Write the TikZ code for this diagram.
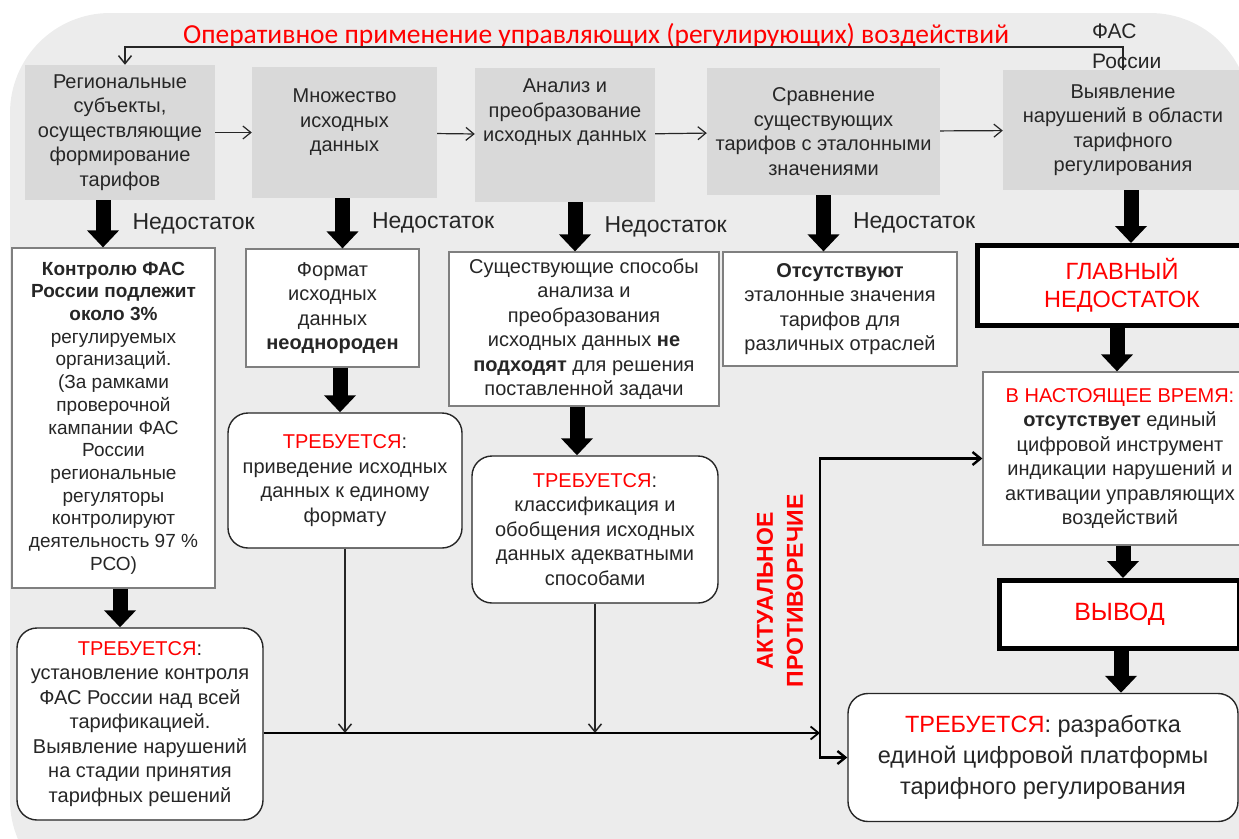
\documentclass[tikz,border=0pt]{standalone}
\usepackage{fontspec}
\setmainfont{Liberation Sans}
\newfontfamily\calibri{Carlito}
\usetikzlibrary{arrows.meta}

\definecolor{panel}{HTML}{ECECEC}
\definecolor{boxgrey}{HTML}{D9D9D9}
\definecolor{ink}{HTML}{262626}
\definecolor{alarm}{HTML}{FF0000}
\definecolor{rim}{HTML}{7F7F7F}

\newcommand{\req}{\textcolor{alarm}{ТРЕБУЕТСЯ}:}

\begin{document}
\begin{tikzpicture}[x=1pt,y=-1pt,>={Straight Barb[length=8pt,width=13pt]},
  font=\fontsize{20}{24.5}\selectfont,text=ink,inner sep=0pt]
  \tikzstyle{stage}=[fill=boxgrey,align=center]
  \tikzstyle{fault}=[draw=rim,fill=white,line width=1.2pt,align=center]
  \tikzstyle{need}=[draw=ink,fill=white,line width=1.4pt,rounded corners=20pt,align=center]
  \tikzstyle{alert}=[draw=black,fill=white,line width=5pt,align=center,text=alarm,font=\fontsize{23.5}{28}\selectfont]
  \tikzstyle{fat}=[line width=15pt,-{Triangle[length=17pt,width=31pt]}]
  \tikzstyle{link}=[->,line width=1.2pt,ink]
  \tikzstyle{bus}=[->,line width=2.4pt]
  \tikzstyle{lack}=[anchor=west,xshift=22pt,font=\fontsize{23}{28}\selectfont]

  \useasboundingbox (0,0) rectangle (1239,838);
  \clip (0,0) rectangle (1239,838);
  \fill[panel,rounded corners=100pt] (10,900) -- (10,13) -- (1250,13) -- (1250,900) -- cycle;

  \node[text=alarm,font=\calibri\fontsize{27.5}{30}\selectfont] (title) at (596,36)
    {Оперативное применение управляющих (регулирующих) воздействий};
  \node[anchor=west,align=left,font=\fontsize{21}{30}\selectfont] (fas) at (1092,46) {ФАС\\России};

  \node[stage,minimum width=190pt,minimum height=135pt] (s1) at (120,132.5)
    {Региональные\\субъекты,\\осуществляющие\\формирование\\тарифов};
  \node[stage,minimum width=185pt,minimum height=131pt] (s2) at (344.5,132.5)
    {Множество\\исходных\\данных\\ \mbox{}};
  \node[stage,minimum width=180pt,minimum height=134pt] (s3) at (565,135)
    {Анализ и\\преобразование\\исходных данных\\ \mbox{}\\ \mbox{}};
  \node[stage,minimum width=233pt,minimum height=127pt] (s4) at (823.5,131.5)
    {Сравнение\\существующих\\тарифов с эталонными\\значениями};
  \node[stage,minimum width=240pt,minimum height=120pt] (s5) at (1123,130)
    {Выявление\\нарушений в области\\тарифного\\регулирования};

  \node[fault,minimum width=203pt,minimum height=340pt,font=\fontsize{19}{22.7}\selectfont] (f1) at (113.5,418)
    {\textbf{Контролю ФАС}\\\textbf{России подлежит}\\\textbf{около 3\%}\\регулируемых\\организаций.\\(За рамками\\проверочной\\кампании ФАС\\России\\региональные\\регуляторы\\контролируют\\деятельность 97 \%\\РСО)};
  \node[fault,minimum width=173pt,minimum height=118pt] (f2) at (332.5,308)
    {Формат\\исходных\\данных\\\textbf{неоднороден}};
  \node[fault,minimum width=270pt,minimum height=154pt] (f3) at (584,329)
    {Существующие способы\\анализа и\\преобразования\\исходных данных \textbf{не}\\\textbf{подходят} для решения\\поставленной задачи};
  \node[fault,minimum width=234pt,minimum height=114pt] (f4) at (840,309)
    {\textbf{Отсутствуют}\\эталонные значения\\тарифов для\\различных отраслей};
  \node[alert,minimum width=290pt,minimum height=80pt] (main) at (1122,285.5) {ГЛАВНЫЙ\\НЕДОСТАТОК};

  \node[need,minimum width=246pt,minimum height=192pt] (r1) at (140,724)
    {\req\\установление контроля\\ФАС России над всей\\тарификацией.\\Выявление нарушений\\на стадии принятия\\тарифных решений};
  \node[need,minimum width=234pt,minimum height=135pt] (r2) at (345,480.5)
    {\req\\приведение исходных\\данных к единому\\формату};
  \node[need,minimum width=246pt,minimum height=147pt] (r3) at (595,529.5)
    {\req\\классификация и\\обобщения исходных\\данных адекватными\\способами};

  \node[fault,minimum width=274pt,minimum height=173pt] (now) at (1120,458.5)
    {\textcolor{alarm}{В НАСТОЯЩЕЕ ВРЕМЯ:}\\\textbf{отсутствует} единый\\цифровой инструмент\\индикации нарушений и\\активации управляющих\\воздействий};
  \node[alert,minimum width=240pt,minimum height=68pt,font=\fontsize{25}{28}\selectfont] (out) at (1119.5,614.5) {ВЫВОД};
  \node[need,minimum width=390pt,minimum height=128pt,font=\fontsize{23.5}{31}\selectfont] (goal) at (1043,757.5)
    {\req{} разработка\\единой цифровой платформы\\тарифного регулирования};

  \node[rotate=90,align=center,text=alarm,font=\bfseries\fontsize{23}{30}\selectfont] (gap) at (780,591)
    {АКТУАЛЬНОЕ\\ПРОТИВОРЕЧИЕ};

  \draw[link] (s1) -- (s2);
  \draw[link] (s2) -- (s3);
  \draw[link] (s3) -- (s4);
  \draw[link] (s4) -- (s5);
  \draw[link,line width=1.5pt] (s5.north) -- ++(0,-23) -| ([xshift=5pt]s1.north);

  \draw[fat] ([xshift=-17pt]s1.south) -- node[lack] {Недостаток} ([xshift=-17pt]s1.south |- f1.north);
  \draw[fat] ([xshift=-2pt]s2.south) -- node[lack] {Недостаток} ([xshift=-2pt]s2.south |- f2.north);
  \draw[fat] ([xshift=10pt]s3.south) -- node[lack] {Недостаток} ([xshift=10pt]s3.south |- f3.north);
  \draw[fat] (s4.south) -- node[lack] {Недостаток} (s4.south |- f4.north);
  \draw[fat] ([xshift=8pt]s5.south) -- ([xshift=8pt]s5.south |- main.north);

  \draw[fat] ([xshift=6.5pt]f1.south) -- ([xshift=6.5pt]f1.south |- r1.north);
  \draw[fat] ([xshift=7.5pt]f2.south) -- ([xshift=7.5pt]f2.south |- r2.north);
  \draw[fat] ([xshift=-7pt]f3.south) -- ([xshift=-7pt]f3.south |- r3.north);
  \draw[fat] ([xshift=-5pt]main.south) -- ([xshift=-5pt]main.south |- now.north);
  \draw[fat] ([xshift=3pt]now.south) -- ([xshift=3pt]now.south |- out.north);
  \draw[fat] ([xshift=1.5pt]out.south) -- ([xshift=1.5pt]out.south |- goal.north);

  \coordinate (join) at (820,733);
  \draw[link,line width=1.5pt] (r2.south) -- (r2.south |- join);
  \draw[link,line width=1.5pt] (r3.south) -- (r3.south |- join);
  \draw[bus,line width=1.8pt] (r1.east |- join) -- (join);
  \draw[bus] (join) |- (now.west);
  \draw[bus] (join) |- (goal.west);
\end{tikzpicture}
\end{document}
